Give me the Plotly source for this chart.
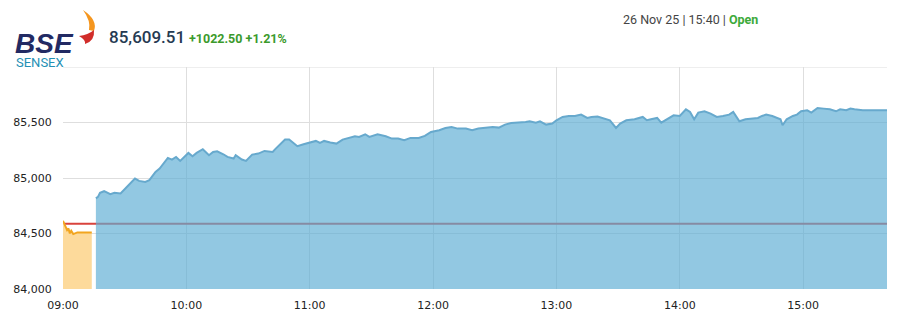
import plotly.graph_objects as go

DAY = "2025-11-26 "
prev_close = 84587.01
last_value = 85609.51
change = "+1022.50"
change_pct = "+1.21%"
stamp = "26 Nov 25 | 15:40 | "
status = "Open"

y_tick_values = [84000, 84500, 85000, 85500]
y_top = 86000

pre_times = ["09:00", "09:01", "09:02", "09:02:40", "09:03:20", "09:04", "09:05", "09:07", "09:10", "09:14"]
pre_values = [84614, 84576, 84531, 84546, 84501, 84524, 84495, 84510, 84510, 84510]

times = ["09:16", "09:17", "09:18", "09:20", "09:23", "09:25", "09:28", "09:30", "09:32", "09:35",
         "09:37", "09:40", "09:42", "09:45", "09:47", "09:49", "09:51", "09:53", "09:55", "09:57",
         "09:59", "10:01", "10:03", "10:05", "10:08", "10:11", "10:13", "10:15", "10:18", "10:20",
         "10:23", "10:24", "10:27", "10:29", "10:32", "10:35", "10:38", "10:42", "10:43", "10:46",
         "10:48", "10:50", "10:52", "10:54", "10:57", "11:00", "11:03", "11:05", "11:07", "11:10",
         "11:13", "11:16", "11:19", "11:22", "11:24", "11:27", "11:29", "11:33", "11:37", "11:40",
         "11:43", "11:46", "11:49", "11:53", "11:56", "11:59", "12:03", "12:06", "12:09", "12:12",
         "12:16", "12:19", "12:22", "12:25", "12:29", "12:32", "12:35", "12:38", "12:42", "12:45",
         "12:47", "12:50", "12:52", "12:55", "12:58", "13:00", "13:03", "13:06", "13:09", "13:12",
         "13:15", "13:17", "13:20", "13:24", "13:26", "13:29", "13:31", "13:34", "13:38", "13:42",
         "13:44", "13:46", "13:49", "13:51", "13:54", "13:57", "14:00", "14:03", "14:05", "14:07",
         "14:09", "14:12", "14:15", "14:18", "14:21", "14:24", "14:26", "14:29", "14:32", "14:35",
         "14:38", "14:40", "14:42", "14:45", "14:47", "14:49", "14:50", "14:52", "14:55", "14:57",
         "14:59", "15:02", "15:04", "15:07", "15:10", "15:13", "15:16", "15:18", "15:21", "15:23",
         "15:25", "15:28", "15:29", "15:40:48"]
values = [84816, 84830, 84866, 84881, 84854, 84866, 84860, 84897, 84935, 84995,
          84974, 84965, 84980, 85055, 85085, 85130, 85181, 85166, 85190, 85154,
          85190, 85226, 85196, 85226, 85259, 85205, 85235, 85241, 85214, 85190,
          85175, 85205, 85166, 85154, 85211, 85220, 85244, 85235, 85256, 85310,
          85346, 85346, 85316, 85286, 85304, 85319, 85334, 85316, 85334, 85319,
          85310, 85346, 85364, 85376, 85370, 85394, 85370, 85394, 85376, 85355,
          85355, 85340, 85361, 85361, 85379, 85415, 85430, 85451, 85460, 85445,
          85445, 85430, 85445, 85451, 85460, 85454, 85481, 85496, 85499, 85505,
          85511, 85499, 85511, 85481, 85490, 85520, 85550, 85559, 85559, 85571,
          85541, 85550, 85553, 85535, 85520, 85451, 85490, 85520, 85529, 85550,
          85520, 85529, 85541, 85499, 85535, 85565, 85559, 85619, 85595, 85529,
          85589, 85601, 85580, 85550, 85559, 85571, 85595, 85511, 85529, 85535,
          85541, 85559, 85571, 85559, 85541, 85529, 85475, 85529, 85559, 85571,
          85601, 85610, 85589, 85631, 85625, 85619, 85601, 85619, 85610, 85625,
          85619, 85616, 85610, 85610]

x_start = DAY + "09:00"
x_end = DAY + "15:40:48"
y_range = [84000, y_top]

L, R, T, B = 63, 17, 67, 39
W, H = 904, 328
PW, PH = W - L - R, H - T - B


def px(x):
    return (x - L) / PW


def py(y):
    return (H - B - y) / PH


fig = go.Figure()

# previous close reference line (drawn first so the translucent area tints it)
fig.add_trace(go.Scatter(x=[x_start, x_end], y=[prev_close, prev_close], mode="lines",
                         line=dict(color="#d9433c", width=2), hoverinfo="skip", showlegend=False))

fig.add_trace(go.Scatter(x=[DAY + t for t in pre_times], y=pre_values, mode="lines",
                         line=dict(color="#f2a51f", width=2), fill="tozeroy",
                         fillcolor="#fdda9b", showlegend=False))

fig.add_trace(go.Scatter(x=[DAY + t for t in times], y=values, mode="lines",
                         line=dict(color="#67a9cd", width=2), fill="tozeroy",
                         fillcolor="rgba(95,174,212,0.68)", showlegend=False))

fig.update_layout(
    width=W, height=H,
    margin=dict(l=L, r=R, t=T, b=B, pad=0),
    paper_bgcolor="white", plot_bgcolor="white",
    font=dict(family="DejaVu Sans", size=11, color="#222222"),
    xaxis=dict(type="date", range=[x_start, x_end], tickformat="%H:%M",
               tick0=DAY + "09:00", dtick=3600000, showgrid=True, gridcolor="#dedede",
               gridwidth=1, zeroline=False, showline=False, ticks="outside",
               ticklen=6, tickcolor="rgba(0,0,0,0)", fixedrange=True),
    yaxis=dict(range=y_range, tickvals=y_tick_values, tickformat=",", showgrid=True,
               gridcolor="#dedede", gridwidth=1, zeroline=False, showline=False,
               ticks="outside", ticklen=8, tickcolor="rgba(0,0,0,0)", fixedrange=True),
)

# top gridline (no label in the reference)
fig.add_shape(type="line", xref="paper", yref="y", x0=0, x1=1, y0=y_top, y1=y_top,
              line=dict(color="#dedede", width=1), layer="below")

# BSE flame logo
fig.add_shape(type="path", xref="paper", yref="paper", layer="above",
              path=f"M {px(83)},{py(10)} Q {px(98)},{py(20)} {px(94)},{py(31)} "
                   f"L {px(89)},{py(30)} Q {px(91)},{py(21)} {px(83)},{py(10)} Z",
              fillcolor="#f5961e", line=dict(width=0))
fig.add_shape(type="path", xref="paper", yref="paper", layer="above",
              path=f"M {px(79)},{py(36)} Q {px(88)},{py(35)} {px(94)},{py(30)} "
                   f"Q {px(95)},{py(41)} {px(85)},{py(44)} Q {px(86)},{py(40)} {px(79)},{py(36)} Z",
              fillcolor="#d12d2a", line=dict(width=0))

annos = [
    dict(x=px(13), y=py(43), text="BSE", xanchor="left", yanchor="middle",
         font=dict(family="Liberation Sans", size=28, color="#222a63", weight="bold", style="italic")),
    dict(x=px(14), y=py(62), text="SENSEX", xanchor="left", yanchor="middle",
         font=dict(family="Roboto", size=13, color="#2490b5")),
    dict(x=px(107), y=py(37), text=f"{last_value:,.2f}", xanchor="left", yanchor="middle",
         font=dict(family="Roboto", size=17, color="#253a52", weight=500)),
    dict(x=px(187), y=py(38), text=f"{change} {change_pct}", xanchor="left", yanchor="middle",
         font=dict(family="Roboto", size=12.5, color="#3b9a2c", weight="bold")),
    dict(x=px(621), y=py(19), text=stamp + f"<b><span style='color:#3daa3a'>{status}</span></b>",
         xanchor="left", yanchor="middle",
         font=dict(family="Roboto", size=12.5, color="#444444")),
]
for a in annos:
    fig.add_annotation(xref="paper", yref="paper", showarrow=False, **a)

fig.write_html("out.html")
